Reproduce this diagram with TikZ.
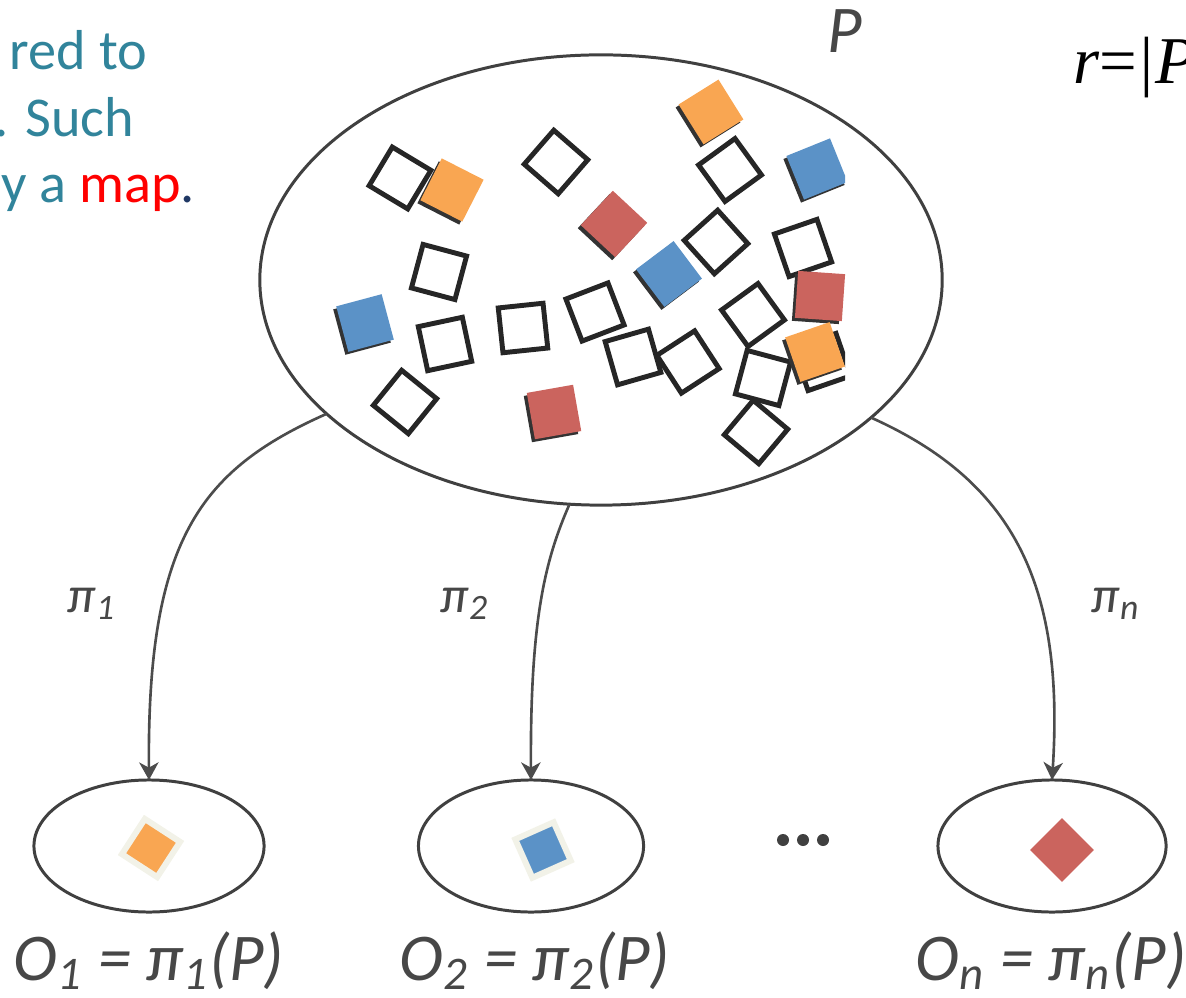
\documentclass[tikz,border=0pt]{standalone}
\usepackage{fontspec}
\setmainfont{Carlito}
\newfontfamily\timesfont{Liberation Serif}
\usetikzlibrary{arrows.meta,shapes.geometric,positioning,calc}

\definecolor{slideteal}{RGB}{49,132,155}
\definecolor{slidenavy}{RGB}{31,56,100}
\definecolor{chiporange}{RGB}{249,166,82}
\definecolor{chipblue}{RGB}{91,146,199}
\definecolor{chipred}{RGB}{203,100,94}
\definecolor{chipedge}{RGB}{242,242,232}

\begin{document}
\begin{tikzpicture}[x=0.01cm, y=-0.01cm,
  every node/.style={inner sep=0pt, outer sep=0pt},
  set/.style={draw=black!75, line width=0.85pt, ellipse},
  hollow/.style={draw=black!85, line width=1.4pt, minimum size=0.45cm},
  chip/.style={fill=#1, minimum size=0.47cm},
  arr/.style={draw=black!70, line width=0.75pt, -{Stealth[length=5pt,width=5.5pt,inset=1.5pt]}},
  mapname/.style={text=black!72, font=\fontsize{14.5}{16}\selectfont\itshape},
  setname/.style={text=black!72, font=\fontsize{19}{22}\selectfont\itshape},
  slidetext/.style={anchor=base east, text=slideteal, font=\fontsize{16}{19}\selectfont}]
  \useasboundingbox (0,0) rectangle (1186,998);
  \clip (0,0) rectangle (1186,998);

  % cut-off slide text
  \node[slidetext] (line1) at (147,70) {red to};
  \node[slidetext] (line2) at (134,137) {. Such};
  \node[slidetext] (line3) at (195,203) {y a \textcolor{red}{map}\textcolor{slidenavy}{.}};
  \node[anchor=base west, font=\timesfont\fontsize{19}{22}\selectfont] (ratio) at (1073,84) {\textit{r}=\textit{|P}};

  % the population
  \node[set, minimum width=6.82cm, minimum height=4.5cm] (pool) at (601,280) {};
  \node[setname, anchor=base] (pname) at (845,53) {P};

  \begin{scope}
    \clip (0,0) rectangle (845,998);
    \foreach \x/\y/\a [count=\i] in {400/178/-31, 556/162/-41, 730/170/36, 439/272/-15,
        716/242/42, 803/248/19, 445/344/12, 523/328/6, 595/312/21, 753/315/36,
        633/357/16, 688/362/33, 822/362/19, 763/378/-15, 405/402/51, 756/432/50}
      \node[hollow, rotate=\a] (hollow\i) at (\x,\y) {};
    \foreach \x/\y/\a/\c [count=\i] in {452/190/-27/chiporange, 711/112/32/chiporange,
        817/169/22/chipblue, 614/224/-43/chipred, 669/274/37/chipblue, 820/296/-4/chipred,
        365/323/15/chipblue, 815/352/19/chiporange, 554/412/10/chipred} {
      \node[chip=black!80, rotate=\a] (shade\i) at ($(\x,\y)+(-3,3)$) {};
      \node[chip=\c, rotate=\a] (chip\i) at (\x,\y) {};
    }
  \end{scope}

  % the outputs
  \node[set, minimum width=2.3cm, minimum height=1.32cm] (o1) at (149,846) {};
  \node[set, minimum width=2.25cm, minimum height=1.32cm] (o2) at (531,846) {};
  \node[set, minimum width=2.28cm, minimum height=1.32cm] (on) at (1052,846) {};

  \node[chip=chiporange, draw=chipedge, line width=1.7pt, minimum size=0.42cm, rotate=-33] (pick1) at (151,848) {};
  \node[chip=chipblue, draw=chipedge, line width=1.7pt, minimum size=0.42cm, rotate=24] (pick2) at (543,850) {};
  \node[chip=chipred, minimum size=0.45cm, rotate=45] (pickn) at (1062,850) {};

  \foreach \x in {783,803,823}
    \fill[black!75] (\x,840) circle[radius=6];

  \draw[arr] (pool.206.6) .. controls (200,470) and (147,540) .. (o1.north);
  \draw[arr] (pool.262.6) .. controls (545,560) and (530,620) .. (o2.north);
  \draw[arr] (pool.333.3) .. controls (1010,480) and (1065,580) .. (on.north);

  \node[mapname, anchor=base] (pi1) at (92,612) {π\textsubscript{1}};
  \node[mapname, anchor=base] (pi2) at (465,612) {π\textsubscript{2}};
  \node[mapname, anchor=base] (pin) at (1116,612) {π\textsubscript{n}};

  \node[setname, anchor=base] (lab1) at (149,980) {O\textsubscript{1} = π\textsubscript{1}(P)};
  \node[setname, anchor=base] (lab2) at (535,980) {O\textsubscript{2} = π\textsubscript{2}(P)};
  \node[setname, anchor=base] (labn) at (1051,980) {O\textsubscript{n} = π\textsubscript{n}(P)};
\end{tikzpicture}
\end{document}
